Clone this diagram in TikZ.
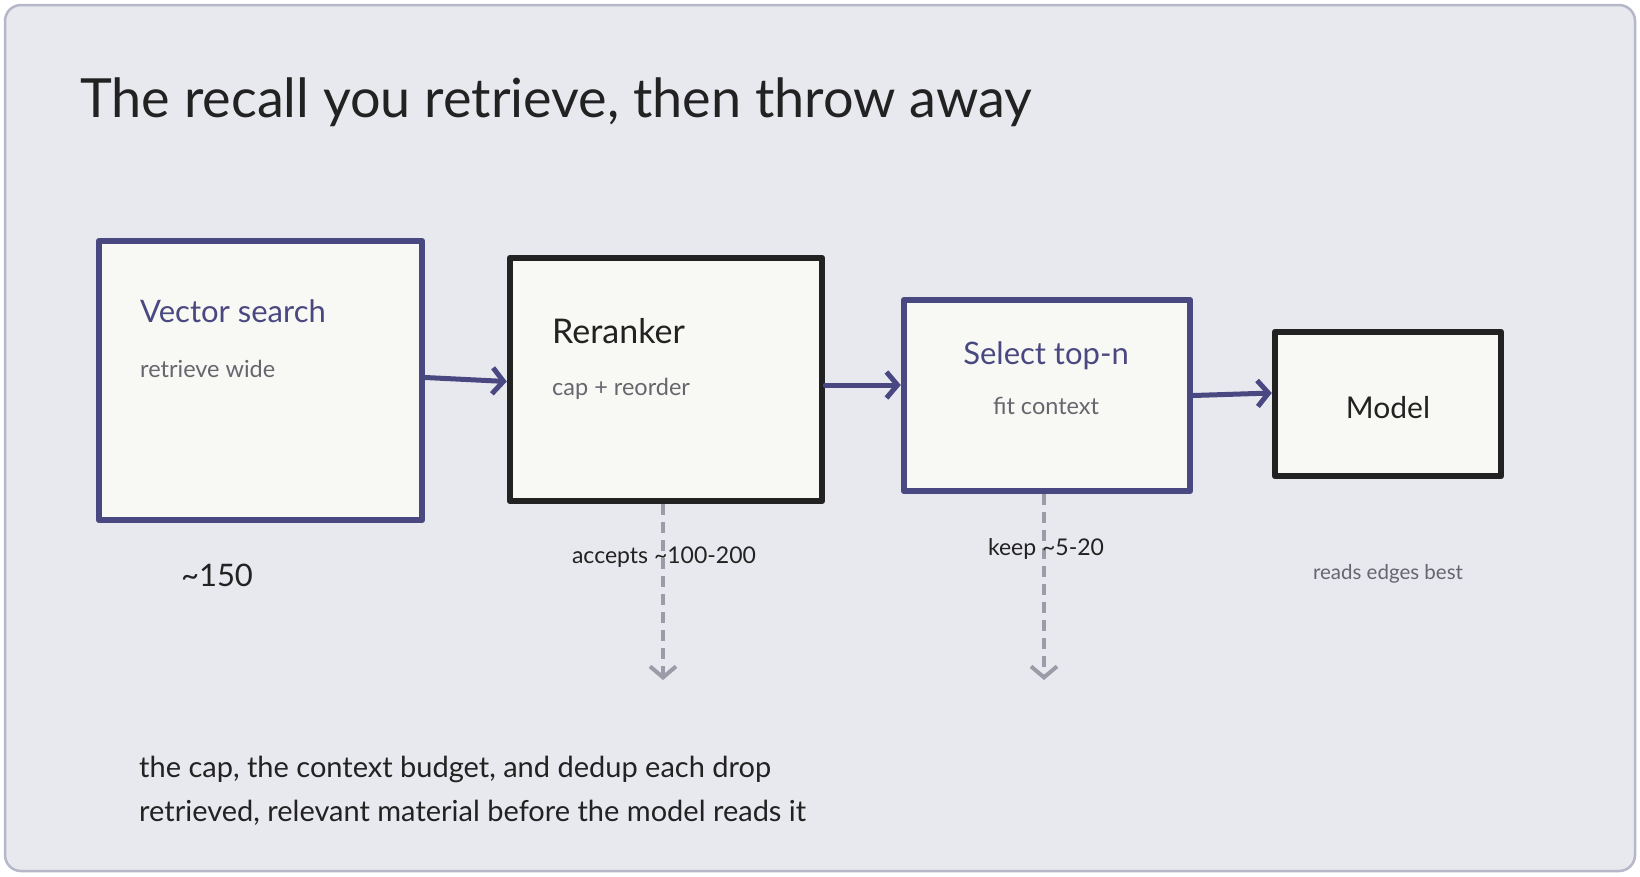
\documentclass[tikz,border=0pt]{standalone}
\usepackage{fontspec}
\setmainfont{Lato}
\usetikzlibrary{arrows.meta}
\definecolor{bgc}{HTML}{E8E8EF}
\definecolor{framec}{HTML}{B6B7C8}
\definecolor{navy}{HTML}{4A4880}
\definecolor{boxfill}{HTML}{F8F8F4}
\definecolor{inkc}{HTML}{222222}
\definecolor{subc}{HTML}{66666E}
\definecolor{dashc}{HTML}{9C9CA8}
\tikzset{
  stagebox/.style={draw, fill=boxfill, line width=6.5pt, line join=round, inner sep=0pt},
  navybox/.style={stagebox, draw=navy},
  inkbox/.style={stagebox, draw=inkc},
  flow/.style={draw=navy, line width=5pt, line cap=round, -{Straight Barb[length=11pt,width=26pt,line width=5pt]}},
  drop/.style={draw=dashc, line width=4pt, dash pattern=on 11pt off 7pt, -{Straight Barb[length=11pt,width=26pt,line width=4pt]}},
  ttl/.style={font=\fontsize{31}{36}\selectfont, inner sep=0pt},
  sub/.style={font=\fontsize{23.5}{28}\selectfont, text=subc, inner sep=0pt},
  lbl/.style={font=\fontsize{23}{28}\selectfont, text=inkc, inner sep=0pt},
}
\begin{document}
\begin{tikzpicture}[x=1pt,y=-1pt]
\useasboundingbox (0,0) rectangle (1640,876);
\draw[rounded corners=16pt, fill=bgc, draw=framec, line width=2.5pt] (5,5) rectangle (1635,871);

\node[anchor=west, inner sep=0pt, text=inkc, font=\fontsize{54}{60}\selectfont] (title) at (80,102) {The recall you retrieve, then throw away};

\node[navybox, minimum width=323pt, minimum height=279pt] (vs) at (260.5,380.5) {};
\node[inkbox, minimum width=312pt, minimum height=243pt] (rr) at (666,379.5) {};
\node[navybox, minimum width=286pt, minimum height=191pt] (sel) at (1047,395.5) {};
\node[inkbox, minimum width=226pt, minimum height=144pt] (mod) at (1388,404) {};

\node[ttl, anchor=west, text=navy] (vst) at (140,311) {Vector search};
\node[sub, anchor=west] (vss) at (140,369) {retrieve wide};
\node[ttl, anchor=west, text=inkc, font=\fontsize{34}{40}\selectfont] (rrt) at (552,331) {Reranker};
\node[sub, anchor=west] (rrs) at (552,389) {cap + reorder};
\node[ttl, text=navy] (selt) at (1046,356) {Select top-n};
\node[sub] (sels) at (1046,406) {fit context};
\node[ttl, text=inkc, font=\fontsize{30}{36}\selectfont] (modt) at (1388,408) {Model};

\draw[flow] ([yshift=3pt]vs.east) -- ([yshift=-2pt]rr.west);
\draw[flow] ([yshift=-5.5pt]rr.east) -- ([yshift=10.5pt]sel.west);
\draw[flow] ([yshift=0pt]sel.east) -- ([yshift=11pt]mod.west);

\coordinate (rrdrop) at (663,680);
\coordinate (seldrop) at (1044,680);
\draw[drop] (rr.south -| rrdrop) -- (rrdrop);
\draw[drop] (sel.south -| seldrop) -- (seldrop);

\node[font=\fontsize{31}{36}\selectfont, text=inkc, inner sep=0pt] (n150) at (217,575) {\textasciitilde150};
\node[lbl] (acc) at (664,557) {accepts \textasciitilde100-200};
\node[lbl] (keep) at (1046,549) {keep \textasciitilde5-20};
\node[font=\fontsize{20.5}{24}\selectfont, text=subc, inner sep=0pt] (reads) at (1388,574) {reads edges best};

\node[anchor=north west, align=left, text=inkc, inner sep=0pt, font=\fontsize{29}{44}\selectfont] (note) at (139,756) {the cap, the context budget, and dedup each drop\\retrieved, relevant material before the model reads it};
\end{tikzpicture}
\end{document}
